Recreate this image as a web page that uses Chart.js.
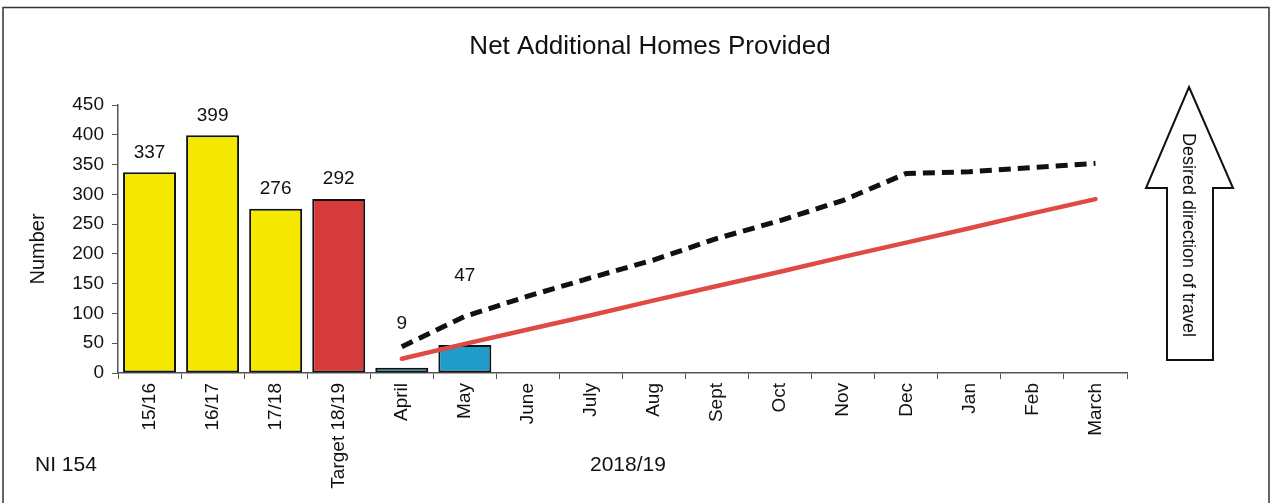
<!DOCTYPE html>
<html>
<head>
<meta charset="utf-8">
<script src="https://cdn.jsdelivr.net/npm/chart.js@4/dist/chart.umd.min.js"></script>
<style>
  html, body { margin: 0; padding: 0; background: #fff; }
  #wrap { width: 1271px; height: 503px; position: relative; }
</style>
</head>
<body>
<div id="wrap"><canvas id="c" width="1271" height="503"></canvas></div>
<script>
const categories = ['15/16', '16/17', '17/18', 'Target 18/19', 'April', 'May', 'June', 'July', 'Aug', 'Sept', 'Oct', 'Nov', 'Dec', 'Jan', 'Feb', 'March'];
const barValues = [337, 399, 276, 292, 9, 47, null, null, null, null, null, null, null, null, null, null];
const barColors = ['#f5e800', '#f5e800', '#f5e800', '#d63a3a', '#1f9cc9', '#1f9cc9'];
const forecastLine = [null, null, null, null, 44, 95, 129, 160, 190, 226, 256, 290, 335, 338, 345, 352];
const targetLine = [null, null, null, null, 24, 49, 73, 97, 122, 146, 170, 195, 219, 243, 268, 292];
const labelLift = [20, 20, 20, 20, 44, 69];
const yTicks = { min: 0, max: 450, step: 50 };
const FONT = '"Liberation Sans", Arial, sans-serif';

const extras = {
  id: 'extras',
  afterDatasetsDraw(chart) {
    const ctx = chart.ctx;
    const ys = chart.scales.y;
    const meta = chart.getDatasetMeta(2);
    ctx.save();
    ctx.fillStyle = '#111';
    ctx.font = '19px ' + FONT;
    ctx.textAlign = 'center';
    ctx.textBaseline = 'middle';
    meta.data.forEach((bar, i) => {
      const v = barValues[i];
      if (v === null || v === undefined) return;
      ctx.fillText(String(v), bar.x, ys.getPixelForValue(v) - labelLift[i]);
    });
    ctx.restore();
  },
  afterDraw(chart) {
    const ctx = chart.ctx;
    ctx.save();
    // frame
    ctx.strokeStyle = '#333';
    ctx.lineWidth = 1.5;
    ctx.beginPath();
    ctx.moveTo(3, 503); ctx.lineTo(3, 7.5); ctx.lineTo(1269, 7.5); ctx.lineTo(1269, 503);
    ctx.stroke();
    // title
    ctx.fillStyle = '#111';
    ctx.textAlign = 'center';
    ctx.textBaseline = 'middle';
    ctx.font = '26px ' + FONT;
    ctx.fillText('Net Additional Homes Provided', 650, 47);
    // y title
    ctx.save();
    ctx.translate(38, 249);
    ctx.rotate(-Math.PI / 2);
    ctx.font = '20px ' + FONT;
    ctx.fillText('Number', 0, 0);
    ctx.restore();
    // bottom labels
    ctx.font = '21px ' + FONT;
    ctx.textAlign = 'left';
    ctx.fillText('NI 154', 35, 465);
    ctx.fillText('2018/19', 590, 465);
    // arrow
    ctx.beginPath();
    ctx.moveTo(1189, 87);
    ctx.lineTo(1233, 188);
    ctx.lineTo(1213, 188);
    ctx.lineTo(1213, 360);
    ctx.lineTo(1167, 360);
    ctx.lineTo(1167, 188);
    ctx.lineTo(1146, 188);
    ctx.closePath();
    ctx.fillStyle = '#fff';
    ctx.fill();
    ctx.strokeStyle = '#111';
    ctx.lineWidth = 2;
    ctx.stroke();
    ctx.save();
    ctx.translate(1188, 235);
    ctx.rotate(Math.PI / 2);
    ctx.fillStyle = '#111';
    ctx.textAlign = 'center';
    ctx.font = '18px ' + FONT;
    ctx.fillText('Desired direction of travel', 0, 0);
    ctx.restore();
    ctx.restore();
  }
};

new Chart(document.getElementById('c'), {
  type: 'bar',
  data: {
    labels: categories,
    datasets: [
      {
        type: 'line',
        data: forecastLine,
        borderColor: '#111',
        borderWidth: 5,
        borderDash: [12, 7],
        pointRadius: 0,
        fill: false,
        tension: 0,
        order: 1
      },
      {
        type: 'line',
        data: targetLine,
        borderColor: '#e04a44',
        borderWidth: 4.5,
        pointRadius: 0,
        fill: false,
        tension: 0,
        borderCapStyle: 'round',
        order: 2
      },
      {
        type: 'bar',
        data: barValues,
        backgroundColor: barColors,
        borderColor: '#111',
        borderWidth: 2,
        borderSkipped: false,
        categoryPercentage: 1,
        barPercentage: 0.84,
        order: 3
      }
    ]
  },
  options: {
    responsive: false,
    animation: false,
    devicePixelRatio: 1,
    layout: { padding: { left: 0, top: 105, right: 144, bottom: 0 } },
    plugins: { legend: { display: false }, tooltip: { enabled: false }, title: { display: false } },
    scales: {
      x: {
        grid: { display: true, drawOnChartArea: false, drawTicks: true, tickLength: 6, color: '#555', offset: true },
        border: { display: true, color: '#555', width: 1.5 },
        ticks: { minRotation: 90, maxRotation: 90, color: '#111', font: { family: FONT, size: 19 }, padding: 4, autoSkip: false },
        afterFit(s) { s.height = 130; }
      },
      y: {
        min: yTicks.min,
        max: yTicks.max,
        grid: { display: true, drawOnChartArea: false, drawTicks: true, tickLength: 6, color: '#555' },
        border: { display: true, color: '#555', width: 1.5 },
        ticks: { stepSize: yTicks.step, color: '#111', font: { family: FONT, size: 19 }, padding: 8 },
        afterFit(s) { s.width = 118; }
      }
    }
  },
  plugins: [extras]
});
</script>
</body>
</html>
